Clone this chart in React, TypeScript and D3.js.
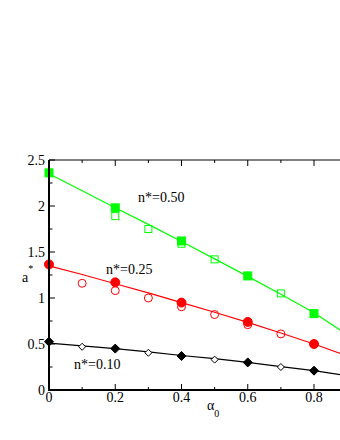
import React, { useEffect, useRef } from 'react';
import * as d3 from 'd3';

// x positions of the fitted curves
const lineX = [0, 0.1, 0.2, 0.3, 0.4, 0.5, 0.6, 0.7, 0.8, 0.9];
const greenLine = [2.35, 2.165, 1.98, 1.8, 1.615, 1.425, 1.235, 1.04, 0.84, 0.6];
const redLine = [1.35, 1.255, 1.155, 1.055, 0.95, 0.845, 0.735, 0.62, 0.5, 0.37];
const blackLine = [0.51, 0.48, 0.45, 0.415, 0.375, 0.34, 0.3, 0.255, 0.21, 0.155];

// filled symbols
const filledX = [0, 0.2, 0.4, 0.6, 0.8];
const greenFilled = [2.36, 1.98, 1.62, 1.24, 0.83];
const redFilled = [1.365, 1.17, 0.95, 0.74, 0.5];
const blackFilled = [0.525, 0.45, 0.37, 0.3, 0.21];

// open symbols
const greenOpenX = [0.2, 0.3, 0.4, 0.5, 0.7];
const greenOpen = [1.89, 1.75, 1.59, 1.42, 1.05];
const redOpenX = [0.1, 0.2, 0.3, 0.4, 0.5, 0.6, 0.7];
const redOpen = [1.16, 1.08, 1.0, 0.905, 0.82, 0.71, 0.61];
const blackOpenX = [0.1, 0.3, 0.5, 0.7];
const blackOpen = [0.47, 0.405, 0.33, 0.25];

const xMajor = [0, 0.2, 0.4, 0.6, 0.8];
const xMinor = [0.1, 0.3, 0.5, 0.7];
const yMajor = [0, 0.5, 1, 1.5, 2, 2.5];
const yMinor = [0.25, 0.75, 1.25, 1.75, 2.25];

const GREEN = '#00ff00';
const RED = '#ff0000';

const App = () => {
  const ref = useRef<SVGSVGElement>(null);

  useEffect(() => {
    const svg = d3.select(ref.current);
    svg.selectAll('*').remove();

    const x = d3.scaleLinear().domain([0, 0.8]).range([49, 314]);
    const y = d3.scaleLinear().domain([0, 2.5]).range([390, 160]);
    const xEnd = 340;

    const g = svg.append('g');

    // fitted lines
    const line = d3.line<number>()
      .x((d, i) => x(lineX[i]))
      .y(d => y(d));
    [[greenLine, GREEN], [redLine, RED], [blackLine, '#000']].forEach(([vals, c]) => {
      g.append('path')
        .datum(vals as number[])
        .attr('fill', 'none')
        .attr('stroke', c as string)
        .attr('stroke-width', 1.2)
        .attr('d', line);
    });

    // squares
    const sq = (xs: number[], ys: number[], size: number, filled: boolean) => {
      g.selectAll(null).data(ys).enter().append('rect')
        .attr('x', (d, i) => x(xs[i]) - size / 2)
        .attr('y', d => y(d) - size / 2)
        .attr('width', size)
        .attr('height', size)
        .attr('fill', filled ? GREEN : 'none')
        .attr('stroke', GREEN)
        .attr('stroke-width', 1);
    };
    sq(greenOpenX, greenOpen, 7, false);
    sq(filledX, greenFilled, 8, true);

    // circles
    const circ = (xs: number[], ys: number[], r: number, filled: boolean) => {
      g.selectAll(null).data(ys).enter().append('circle')
        .attr('cx', (d, i) => x(xs[i]))
        .attr('cy', d => y(d))
        .attr('r', r)
        .attr('fill', filled ? RED : 'none')
        .attr('stroke', RED)
        .attr('stroke-width', 1);
    };
    circ(redOpenX, redOpen, 4, false);
    circ(filledX, redFilled, 4.5, true);

    // diamonds
    const dia = (xs: number[], ys: number[], h: number, filled: boolean) => {
      g.selectAll(null).data(ys).enter().append('path')
        .attr('d', (d, i) => {
          const cx = x(xs[i]);
          const cy = y(d);
          return `M${cx},${cy - h}L${cx + h},${cy}L${cx},${cy + h}L${cx - h},${cy}Z`;
        })
        .attr('fill', filled ? '#000' : '#fff')
        .attr('stroke', '#000')
        .attr('stroke-width', 1);
    };
    dia(blackOpenX, blackOpen, 3.5, false);
    dia(filledX, blackFilled, 4.5, true);

    // axes
    const ax = svg.append('g').attr('stroke', '#000');
    ax.append('line').attr('x1', x(0)).attr('x2', xEnd).attr('y1', y(0)).attr('y2', y(0)).attr('stroke-width', 2);
    ax.append('line').attr('x1', x(0)).attr('x2', x(0)).attr('y1', y(0) + 1).attr('y2', y(2.5)).attr('stroke-width', 2);
    ax.append('line').attr('x1', x(0)).attr('x2', xEnd).attr('y1', y(2.5)).attr('y2', y(2.5)).attr('stroke-width', 1);

    xMajor.forEach(v => {
      ax.append('line').attr('x1', x(v)).attr('x2', x(v)).attr('y1', y(0)).attr('y2', y(0) - 6);
      ax.append('line').attr('x1', x(v)).attr('x2', x(v)).attr('y1', y(2.5)).attr('y2', y(2.5) + 6);
    });
    xMinor.forEach(v => {
      ax.append('line').attr('x1', x(v)).attr('x2', x(v)).attr('y1', y(0)).attr('y2', y(0) - 3);
      ax.append('line').attr('x1', x(v)).attr('x2', x(v)).attr('y1', y(2.5)).attr('y2', y(2.5) + 3);
    });
    yMajor.forEach(v => {
      ax.append('line').attr('x1', x(0)).attr('x2', x(0) + 6).attr('y1', y(v)).attr('y2', y(v));
    });
    yMinor.forEach(v => {
      ax.append('line').attr('x1', x(0)).attr('x2', x(0) + 3.5).attr('y1', y(v)).attr('y2', y(v));
    });

    const txt = svg.append('g')
      .style('font-family', "'Liberation Serif', 'DejaVu Serif', serif")
      .style('font-size', '14px')
      .attr('fill', '#000');
    xMajor.forEach(v => {
      txt.append('text').attr('x', x(v)).attr('y', 402).attr('text-anchor', 'middle').text(d3.format('')(v));
    });
    yMajor.forEach(v => {
      txt.append('text').attr('x', 45).attr('y', y(v)).attr('dy', '0.35em').attr('text-anchor', 'end').text(d3.format('')(v));
    });

    // axis titles
    const xt = txt.append('text').attr('x', 207).attr('y', 410);
    xt.append('tspan').text('α');
    xt.append('tspan').style('font-size', '10px').attr('dy', 7).text('0');
    const yt = txt.append('text').attr('x', 22).attr('y', 282);
    yt.append('tspan').text('a');
    yt.append('tspan').style('font-size', '10px').attr('dy', -10).text('*');

    // curve labels
    txt.append('text').attr('x', 138).attr('y', 202).text('n*=0.50');
    txt.append('text').attr('x', 106).attr('y', 274).text('n*=0.25');
    txt.append('text').attr('x', 74).attr('y', 369).text('n*=0.10');
  }, []);

  return (
    <svg ref={ref} width={340} height={440}
      style={{ position: 'absolute', left: 0, top: 0, background: '#fff' }} />
  );
};

export default App;
